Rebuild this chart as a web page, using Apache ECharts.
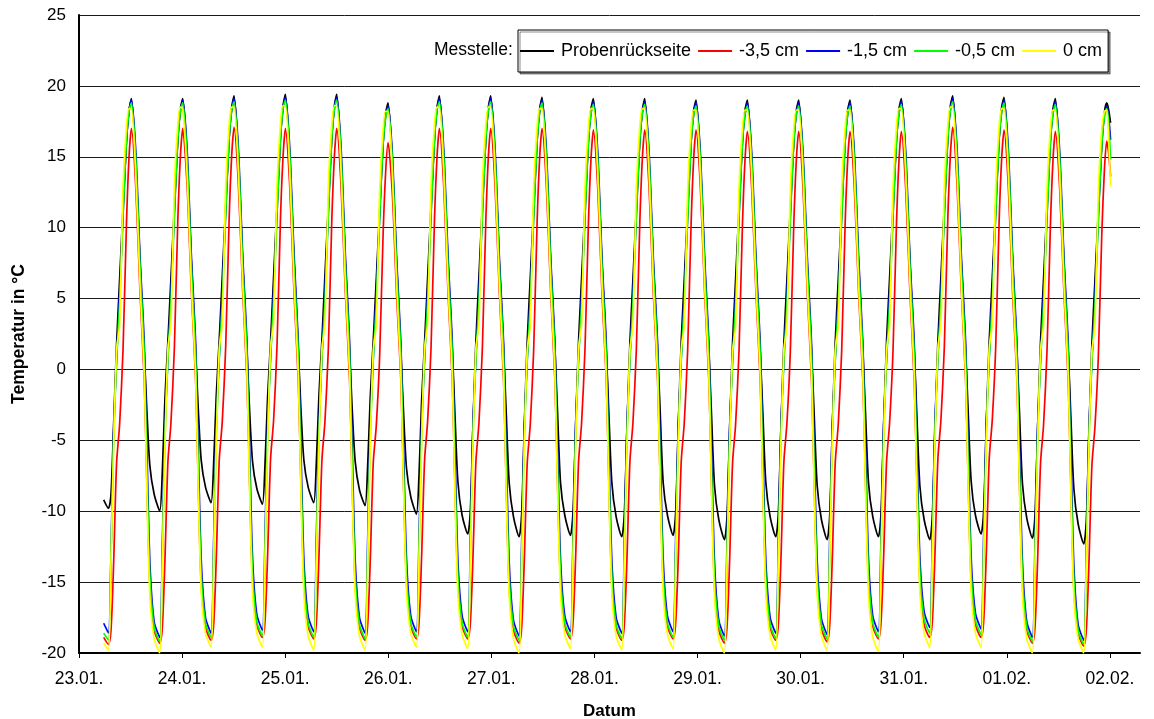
<!DOCTYPE html>
<html>
<head>
<meta charset="utf-8">
<script src="https://cdn.jsdelivr.net/npm/echarts@6/dist/echarts.min.js"></script>
<style>html,body{margin:0;padding:0;background:#fff;}#c{width:1154px;height:719px;}</style>
</head>
<body>
<div id="c"></div>
<script>
// ---- data ----
const tickHours = [0, 24, 48, 72, 96, 120, 144, 168, 192, 216, 240];
const tickLabels = ['23.01.', '24.01.', '25.01.', '26.01.', '27.01.', '28.01.', '29.01.', '30.01.', '31.01.', '01.02.', '02.02.'];
const seriesNames = ['Probenrückseite', '-3,5 cm', '-1,5 cm', '-0,5 cm', '0 cm'];
// hours (since 23.01. 00:00) of each temperature peak; first entry is the peak before the record starts
const peakHours = [0.25, 12.2, 24.15, 36.1, 48.05, 60.0, 71.95, 83.9, 95.85, 107.8, 119.75,
  131.7, 143.65, 155.6, 167.55, 179.5, 191.45, 203.4, 215.35, 227.3, 239.25];
// sample times, hours after a peak
const firstOffsets = [5.5, 6.6, 7.2, 7.8, 8.5, 9.2, 10.0, 10.8, 11.4];
const cycleOffsets = [0, 1, 2, 3, 3.6, 4.3, 5.3, 6.6, 7.2, 7.8, 8.5, 9.2, 10.0, 10.8, 11.4];
const lastOffsets = [0, 0.4, 0.9];

const probenrueckseite = [
  -9.2, -9.8, -8.8, -4.0, 1.8, 6.3, 11.4, 16.1, 18.3,
  19.1, 14.8, 7.5, 1.2, -2.9, -6.8, -8.8, -10.0, -7.2, -2.1, 2.0, 6.4, 11.5, 16.2, 18.4,
  19.1, 14.9, 7.6, 1.3, -2.7, -6.4, -8.3, -9.4, -6.6, -1.9, 2.1, 6.5, 11.6, 16.3, 18.5,
  19.3, 15.0, 7.6, 1.3, -2.8, -6.5, -8.4, -9.5, -6.7, -2.0, 2.0, 6.5, 11.6, 16.4, 18.6,
  19.4, 15.0, 7.7, 1.4, -2.7, -6.4, -8.3, -9.4, -6.6, -1.9, 2.1, 6.6, 11.6, 16.4, 18.6,
  19.4, 15.0, 7.6, 1.3, -2.8, -6.5, -8.5, -9.6, -6.8, -2.0, 2.0, 6.3, 11.3, 16.0, 18.1,
  18.8, 14.6, 7.3, 1.1, -3.0, -7.0, -9.0, -10.2, -7.5, -2.3, 1.9, 6.4, 11.5, 16.3, 18.5,
  19.3, 14.9, 7.5, 1.4, -3.0, -7.9, -10.3, -11.6, -10.0, -4.1, 2.0, 6.5, 11.6, 16.3, 18.5,
  19.3, 14.9, 7.5, 1.4, -3.0, -8.0, -10.4, -11.8, -10.2, -4.2, 2.0, 6.4, 11.5, 16.2, 18.4,
  19.2, 14.8, 7.5, 1.4, -3.0, -8.0, -10.3, -11.7, -10.1, -4.2, 2.0, 6.4, 11.5, 16.2, 18.4,
  19.1, 14.8, 7.4, 1.3, -3.1, -8.0, -10.4, -11.8, -10.2, -4.3, 1.9, 6.3, 11.4, 16.1, 18.3,
  19.1, 14.7, 7.4, 1.3, -3.0, -8.0, -10.3, -11.7, -10.1, -4.2, 2.0, 6.3, 11.4, 16.1, 18.3,
  19.0, 14.7, 7.3, 1.2, -3.2, -8.2, -10.6, -12.0, -10.4, -4.4, 1.9, 6.3, 11.4, 16.1, 18.3,
  19.0, 14.7, 7.3, 1.2, -3.1, -8.0, -10.4, -11.8, -10.2, -4.2, 1.9, 6.3, 11.4, 16.1, 18.3,
  19.0, 14.7, 7.3, 1.2, -3.2, -8.2, -10.6, -12.0, -10.4, -4.4, 1.9, 6.3, 11.4, 16.1, 18.3,
  19.0, 14.7, 7.3, 1.2, -3.1, -8.0, -10.4, -11.8, -10.2, -4.2, 2.0, 6.4, 11.5, 16.2, 18.4,
  19.1, 14.8, 7.4, 1.3, -3.2, -8.2, -10.6, -12.0, -10.4, -4.4, 2.0, 6.5, 11.6, 16.4, 18.6,
  19.3, 14.9, 7.5, 1.4, -3.0, -7.9, -10.3, -11.6, -10.0, -4.1, 2.0, 6.4, 11.5, 16.3, 18.5,
  19.2, 14.8, 7.5, 1.3, -3.1, -8.1, -10.5, -11.9, -10.3, -4.3, 2.0, 6.4, 11.5, 16.2, 18.4,
  19.1, 14.7, 7.4, 1.2, -3.3, -8.4, -10.9, -12.3, -10.7, -4.6, 1.8, 6.2, 11.2, 15.9, 18.1,
  18.8, 18.4, 17.4
];
const minus35 = [
  -18.9, -19.4, -18.4, -13.8, -6.6, -3.9, 1.4, 10.3, 15.0,
  17.0, 13.0, 5.5, -0.8, -8.0, -15.3, -18.4, -19.3, -18.2, -13.5, -6.5, -3.8, 1.5, 10.5, 15.0,
  17.0, 13.1, 5.6, -0.7, -7.9, -15.2, -18.2, -19.1, -18.0, -13.4, -6.4, -3.7, 1.6, 10.6, 15.1,
  17.1, 13.1, 5.6, -0.7, -7.8, -15.0, -18.0, -18.9, -17.8, -13.2, -6.3, -3.6, 1.7, 10.6, 15.0,
  17.0, 13.0, 5.5, -0.8, -7.9, -15.1, -18.1, -19.0, -17.9, -13.3, -6.4, -3.7, 1.5, 10.5, 15.0,
  17.0, 13.0, 5.5, -0.8, -8.0, -15.2, -18.2, -19.1, -18.0, -13.5, -6.6, -4.0, 1.0, 9.6, 14.0,
  16.0, 12.4, 5.2, -0.9, -8.0, -15.1, -18.1, -19.0, -17.9, -13.3, -6.4, -3.7, 1.5, 10.5, 15.0,
  17.0, 13.0, 5.5, -0.8, -7.9, -15.1, -18.1, -19.0, -17.9, -13.4, -6.5, -3.8, 1.5, 10.4, 15.0,
  17.0, 13.0, 5.5, -0.8, -8.1, -15.4, -18.4, -19.3, -18.2, -13.6, -6.6, -3.9, 1.4, 10.4, 15.0,
  17.0, 13.0, 5.5, -0.8, -7.9, -15.1, -18.1, -19.0, -17.9, -13.4, -6.5, -3.8, 1.5, 10.4, 14.9,
  16.9, 12.9, 5.4, -0.8, -8.0, -15.2, -18.2, -19.1, -18.0, -13.5, -6.5, -3.8, 1.4, 10.3, 14.9,
  16.9, 12.9, 5.4, -0.8, -7.9, -15.1, -18.1, -19.0, -17.9, -13.4, -6.5, -3.8, 1.4, 10.3, 14.9,
  16.9, 12.9, 5.4, -0.9, -8.1, -15.4, -18.4, -19.3, -18.2, -13.6, -6.6, -3.9, 1.3, 10.2, 14.8,
  16.8, 12.8, 5.4, -0.9, -8.0, -15.2, -18.2, -19.1, -18.0, -13.5, -6.5, -3.8, 1.3, 10.2, 14.8,
  16.8, 12.8, 5.4, -0.9, -8.0, -15.3, -18.3, -19.2, -18.1, -13.5, -6.6, -3.9, 1.3, 10.2, 14.8,
  16.8, 12.8, 5.4, -0.9, -7.9, -15.1, -18.1, -19.0, -17.9, -13.4, -6.5, -3.8, 1.3, 10.2, 14.8,
  16.8, 12.8, 5.4, -0.9, -7.8, -15.0, -18.0, -18.9, -17.8, -13.2, -6.3, -3.6, 1.6, 10.6, 15.1,
  17.1, 13.1, 5.6, -0.7, -7.8, -15.0, -18.0, -18.9, -17.8, -13.2, -6.3, -3.6, 1.5, 10.4, 14.9,
  16.9, 12.9, 5.4, -0.8, -8.1, -15.4, -18.4, -19.3, -18.2, -13.6, -6.6, -3.9, 1.3, 10.2, 14.8,
  16.8, 12.8, 5.4, -0.9, -8.2, -15.5, -18.6, -19.5, -18.4, -13.8, -6.8, -4.1, 0.9, 9.5, 14.0,
  16.1, 15.4, 13.6
];
const minus15 = [
  -17.9, -18.6, -13.0, -4.5, 0.7, 5.4, 10.9, 16.2, 18.2,
  19.0, 15.5, 8.0, 1.8, -5.5, -13.6, -17.8, -18.9, -12.4, -4.2, 0.8, 5.5, 11.0, 16.3, 18.2,
  19.0, 15.6, 8.1, 1.9, -5.4, -13.4, -17.5, -18.6, -12.1, -4.0, 0.9, 5.6, 11.1, 16.4, 18.3,
  19.1, 15.6, 8.1, 1.9, -5.3, -13.3, -17.3, -18.4, -11.9, -3.9, 0.9, 5.6, 11.1, 16.4, 18.4,
  19.2, 15.7, 8.2, 1.9, -5.4, -13.4, -17.4, -18.5, -12.0, -4.0, 0.9, 5.6, 11.1, 16.4, 18.4,
  19.2, 15.7, 8.1, 1.9, -5.5, -13.5, -17.5, -18.6, -12.1, -4.1, 0.8, 5.5, 10.9, 16.0, 17.9,
  18.6, 15.2, 7.8, 1.7, -5.5, -13.4, -17.4, -18.5, -12.0, -4.0, 0.8, 5.5, 11.0, 16.3, 18.3,
  19.1, 15.6, 8.1, 1.9, -5.4, -13.4, -17.4, -18.5, -12.0, -4.0, 0.8, 5.5, 11.0, 16.3, 18.3,
  19.1, 15.6, 8.0, 1.8, -5.6, -13.6, -17.7, -18.8, -12.3, -4.2, 0.7, 5.4, 10.9, 16.2, 18.2,
  19.0, 15.5, 8.0, 1.8, -5.4, -13.4, -17.4, -18.5, -12.0, -4.0, 0.8, 5.4, 10.9, 16.2, 18.1,
  18.9, 15.4, 7.9, 1.8, -5.5, -13.5, -17.5, -18.6, -12.1, -4.1, 0.8, 5.4, 10.9, 16.2, 18.1,
  18.9, 15.4, 7.9, 1.8, -5.4, -13.4, -17.4, -18.5, -12.0, -4.0, 0.8, 5.4, 10.8, 16.1, 18.0,
  18.8, 15.3, 7.9, 1.7, -5.6, -13.6, -17.7, -18.8, -12.3, -4.2, 0.7, 5.3, 10.8, 16.1, 18.0,
  18.8, 15.3, 7.9, 1.7, -5.5, -13.5, -17.5, -18.6, -12.1, -4.1, 0.7, 5.3, 10.8, 16.1, 18.0,
  18.8, 15.3, 7.9, 1.7, -5.5, -13.5, -17.6, -18.7, -12.2, -4.1, 0.7, 5.3, 10.8, 16.1, 18.0,
  18.8, 15.3, 7.9, 1.7, -5.4, -13.4, -17.4, -18.5, -12.0, -4.0, 0.8, 5.4, 10.9, 16.2, 18.1,
  18.9, 15.4, 7.9, 1.8, -5.2, -13.2, -17.1, -18.2, -11.7, -3.8, 0.9, 5.5, 11.0, 16.3, 18.3,
  19.1, 15.6, 8.1, 1.9, -5.3, -13.3, -17.2, -18.3, -11.8, -3.9, 0.9, 5.5, 11.0, 16.3, 18.2,
  19.0, 15.5, 8.0, 1.8, -5.6, -13.7, -17.8, -18.9, -12.4, -4.2, 0.7, 5.4, 10.9, 16.2, 18.1,
  18.9, 15.4, 7.9, 1.7, -5.7, -13.8, -18.0, -19.1, -12.6, -4.3, 0.6, 5.2, 10.7, 15.9, 17.9,
  18.6, 18.0, 16.2
];
const minus05 = [
  -18.6, -19.1, -13.2, -5.0, 0.7, 4.5, 10.8, 16.2, 18.2,
  18.8, 15.0, 7.3, 1.0, -7.0, -14.6, -18.2, -19.2, -13.2, -5.0, 0.8, 4.6, 10.9, 16.2, 18.2,
  18.8, 15.0, 7.3, 1.0, -6.9, -14.5, -17.9, -18.9, -12.9, -4.8, 0.8, 4.6, 11.0, 16.3, 18.3,
  18.9, 15.1, 7.4, 1.1, -6.8, -14.4, -17.8, -18.8, -12.8, -4.7, 0.9, 4.7, 11.0, 16.3, 18.4,
  19.0, 15.2, 7.4, 1.1, -6.9, -14.5, -17.9, -18.9, -12.9, -4.8, 0.8, 4.6, 11.0, 16.3, 18.4,
  19.0, 15.2, 7.4, 1.0, -7.0, -14.6, -18.0, -19.0, -13.0, -4.9, 0.7, 4.5, 10.8, 16.0, 17.8,
  18.4, 14.7, 7.1, 0.9, -7.0, -14.5, -17.9, -18.9, -12.9, -4.8, 0.8, 4.6, 10.9, 16.2, 18.3,
  18.9, 15.1, 7.3, 1.0, -6.9, -14.5, -17.9, -18.9, -12.9, -4.8, 0.8, 4.6, 10.9, 16.2, 18.3,
  18.9, 15.1, 7.3, 1.0, -7.1, -14.7, -18.1, -19.1, -13.1, -5.0, 0.7, 4.5, 10.8, 16.1, 18.2,
  18.8, 15.0, 7.3, 1.0, -6.9, -14.5, -17.9, -18.9, -12.9, -4.8, 0.8, 4.5, 10.8, 16.1, 18.1,
  18.7, 14.9, 7.2, 0.9, -7.0, -14.6, -18.0, -19.0, -13.0, -4.9, 0.7, 4.5, 10.8, 16.1, 18.1,
  18.7, 14.9, 7.2, 0.9, -6.9, -14.5, -17.9, -18.9, -12.9, -4.8, 0.7, 4.5, 10.7, 16.0, 18.0,
  18.6, 14.8, 7.2, 0.9, -7.1, -14.7, -18.1, -19.1, -13.1, -5.0, 0.6, 4.4, 10.7, 16.0, 18.0,
  18.6, 14.8, 7.2, 0.9, -7.0, -14.6, -18.0, -19.0, -13.0, -4.9, 0.7, 4.4, 10.7, 16.0, 18.0,
  18.6, 14.8, 7.2, 0.9, -7.0, -14.6, -18.0, -19.0, -13.0, -4.9, 0.7, 4.4, 10.7, 16.0, 18.0,
  18.6, 14.8, 7.2, 0.9, -6.9, -14.5, -17.9, -18.9, -12.9, -4.8, 0.7, 4.5, 10.8, 16.1, 18.1,
  18.7, 14.9, 7.2, 0.9, -6.7, -14.3, -17.6, -18.6, -12.6, -4.6, 0.9, 4.6, 10.9, 16.2, 18.3,
  18.9, 15.1, 7.3, 1.0, -6.8, -14.4, -17.7, -18.7, -12.7, -4.7, 0.8, 4.6, 10.9, 16.2, 18.2,
  18.8, 15.0, 7.3, 1.0, -7.1, -14.7, -18.2, -19.2, -13.2, -5.0, 0.7, 4.5, 10.8, 16.1, 18.1,
  18.7, 14.9, 7.2, 0.9, -7.2, -14.8, -18.4, -19.4, -13.4, -5.1, 0.6, 4.3, 10.6, 15.8, 17.8,
  18.4, 17.6, 14.8
];
const zero = [
  -19.3, -19.8, -13.6, -5.6, 1.4, 3.1, 12.9, 17.2, 18.4,
  18.4, 13.8, 6.0, -0.5, -8.6, -16.0, -19.0, -20.0, -13.8, -5.6, 1.5, 3.2, 13.0, 17.3, 18.5,
  18.4, 13.8, 6.0, -0.5, -8.4, -15.7, -18.6, -19.6, -13.4, -5.4, 1.5, 3.2, 13.0, 17.3, 18.5,
  18.5, 13.9, 6.1, -0.4, -8.4, -15.7, -18.6, -19.6, -13.4, -5.4, 1.6, 3.3, 13.1, 17.4, 18.6,
  18.6, 14.0, 6.1, -0.4, -8.5, -15.8, -18.8, -19.8, -13.6, -5.5, 1.5, 3.2, 13.0, 17.3, 18.6,
  18.6, 14.0, 6.1, -0.4, -8.5, -15.8, -18.8, -19.8, -13.6, -5.5, 1.4, 3.1, 12.7, 17.0, 18.2,
  18.2, 13.7, 5.9, -0.6, -8.4, -15.7, -18.6, -19.6, -13.4, -5.4, 1.5, 3.2, 13.0, 17.3, 18.5,
  18.5, 13.9, 6.0, -0.5, -8.5, -15.8, -18.7, -19.7, -13.5, -5.5, 1.5, 3.2, 13.0, 17.3, 18.5,
  18.5, 13.9, 6.0, -0.5, -8.6, -16.0, -19.0, -20.0, -13.8, -5.6, 1.4, 3.1, 12.9, 17.2, 18.4,
  18.4, 13.8, 6.0, -0.5, -8.5, -15.8, -18.7, -19.7, -13.5, -5.5, 1.5, 3.2, 12.9, 17.2, 18.4,
  18.4, 13.8, 6.0, -0.5, -8.5, -15.8, -18.8, -19.8, -13.6, -5.5, 1.4, 3.1, 12.9, 17.2, 18.4,
  18.4, 13.8, 6.0, -0.5, -8.5, -15.8, -18.7, -19.7, -13.5, -5.5, 1.4, 3.1, 12.8, 17.1, 18.3,
  18.3, 13.7, 5.9, -0.6, -8.6, -16.0, -19.0, -20.0, -13.8, -5.6, 1.3, 3.0, 12.8, 17.1, 18.3,
  18.3, 13.7, 5.9, -0.6, -8.5, -15.8, -18.8, -19.8, -13.6, -5.5, 1.4, 3.1, 12.8, 17.1, 18.3,
  18.3, 13.7, 5.9, -0.6, -8.5, -15.8, -18.8, -19.8, -13.6, -5.5, 1.4, 3.1, 12.8, 17.1, 18.3,
  18.3, 13.7, 5.9, -0.6, -8.6, -15.9, -18.9, -19.9, -13.7, -5.6, 1.4, 3.1, 12.9, 17.2, 18.4,
  18.4, 13.8, 6.0, -0.5, -8.4, -15.7, -18.6, -19.6, -13.4, -5.4, 1.5, 3.2, 13.0, 17.3, 18.5,
  18.5, 13.9, 6.0, -0.5, -8.4, -15.7, -18.6, -19.6, -13.4, -5.4, 1.5, 3.2, 12.9, 17.2, 18.4,
  18.4, 13.8, 6.0, -0.5, -8.6, -16.0, -19.0, -20.0, -13.8, -5.6, 1.4, 3.1, 12.8, 17.1, 18.3,
  18.3, 13.7, 5.9, -0.6, -8.6, -16.0, -19.0, -20.0, -13.8, -5.6, 1.3, 3.0, 12.7, 17.0, 18.2,
  18.3, 16.5, 12.9
];
const seriesValues = [probenrueckseite, minus35, minus15, minus05, zero];
const seriesColors = ['#000000', '#ff0000', '#0000ff', '#00ff00', '#ffff00'];

// ---- sample times built from the peak list ----
const hours = [];
firstOffsets.forEach(o => hours.push(+(peakHours[0] + o).toFixed(2)));
for (let k = 1; k < peakHours.length - 1; k++) {
  cycleOffsets.forEach(o => hours.push(+(peakHours[k] + o).toFixed(2)));
}
lastOffsets.forEach(o => hours.push(+(peakHours[peakHours.length - 1] + o).toFixed(2)));

const FONT = "'Liberation Sans', Arial, sans-serif";
const chart = echarts.init(document.getElementById('c'), null, {renderer: 'canvas'});
chart.setOption({
  backgroundColor: '#ffffff',
  animation: false,
  textStyle: {fontFamily: FONT, color: '#000'},
  grid: {left: 79, right: 14, top: 15, bottom: 66, containLabel: false, outerBoundsMode: 'none'},
  legend: {
    data: seriesNames,
    left: 518, top: 30,
    padding: [12, 6, 12, 2],
    itemGap: 7,
    itemWidth: 34, itemHeight: 2,
    icon: 'rect',
    backgroundColor: '#fff',
    borderColor: '#000', borderWidth: 1,
    shadowColor: 'rgba(0,0,0,0.45)', shadowOffsetX: 2, shadowOffsetY: 2, shadowBlur: 0,
    textStyle: {fontFamily: FONT, fontSize: 18, color: '#000', padding: [0, 0, 0, 2]}
  },
  graphic: [{
    type: 'text', left: 434, top: 41,
    style: {text: 'Messtelle:', font: "17.5px 'Liberation Sans', Arial, sans-serif", fill: '#000'}
  }],
  xAxis: {
    type: 'value', min: 0, max: 247, interval: 24,
    name: 'Datum', nameLocation: 'middle', nameGap: 50,
    nameTextStyle: {fontFamily: FONT, fontSize: 17, fontWeight: 'bold', color: '#000'},
    axisLine: {show: true, onZero: false, lineStyle: {color: '#000', width: 2}},
    axisTick: {show: true, length: 5, lineStyle: {color: '#000', width: 1}, customValues: tickHours},
    axisLabel: {
      customValues: tickHours, fontSize: 17.5, color: '#000', margin: 17, fontFamily: FONT,
      formatter: v => { const i = tickHours.indexOf(Math.round(v)); return i >= 0 ? tickLabels[i] : ''; }
    },
    splitLine: {show: false}
  },
  yAxis: {
    type: 'value', min: -20, max: 25, interval: 5,
    name: 'Temperatur in °C', nameLocation: 'middle', nameGap: 51, nameRotate: 90,
    nameTextStyle: {fontFamily: FONT, fontSize: 17.5, fontWeight: 'bold', color: '#000'},
    axisLine: {show: true, onZero: false, lineStyle: {color: '#000', width: 2}},
    axisTick: {show: false},
    axisLabel: {fontSize: 17, color: '#000', margin: 13, fontFamily: FONT},
    splitLine: {show: true, lineStyle: {color: '#1a1a1a', width: 1}}
  },
  series: seriesNames.map((name, i) => ({
    name, type: 'line', showSymbol: false, symbol: 'none',
    smooth: 0.25,
    lineStyle: {color: seriesColors[i], width: 1.7},
    itemStyle: {color: seriesColors[i]},
    data: hours.map((h, j) => [h, seriesValues[i][j]]),
    z: 2 + i
  }))
});
</script>
</body>
</html>
